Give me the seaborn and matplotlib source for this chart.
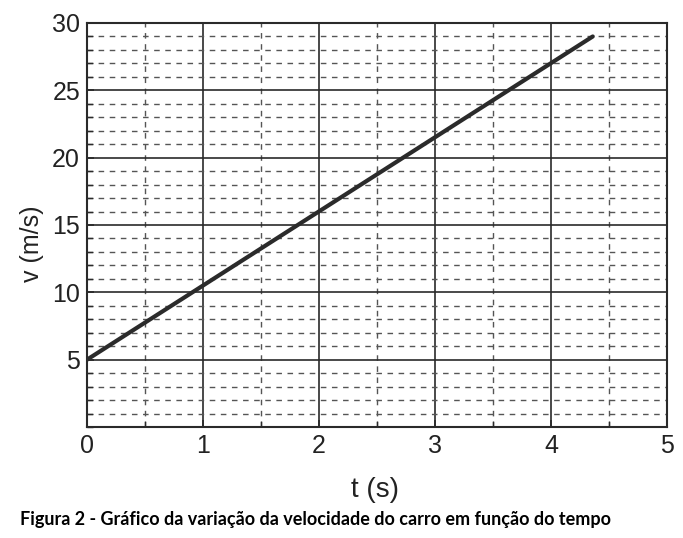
import matplotlib
matplotlib.use("Agg")
import matplotlib.pyplot as plt
import seaborn as sns
import pandas as pd
import numpy as np
from matplotlib.ticker import MultipleLocator

t_values = [0.0, 4.36]
v_values = [5.0, 29.0]
x_ticks = [0, 1, 2, 3, 4, 5]
y_ticks = [5, 10, 15, 20, 25, 30]
x_label = "t (s)"
y_label = "v (m/s)"
caption = "Figura 2 - Gráfico da variação da velocidade do carro em função do tempo"

sns.set_theme(style="white")
plt.rcParams['font.family'] = ['Liberation Sans', 'DejaVu Sans']

df = pd.DataFrame({"t": t_values, "v": v_values})

fig = plt.figure(figsize=(6.83, 5.38), dpi=100)
ax = fig.add_axes([87/683, 1-427/538, (667-87)/683, (427-23)/538])

ax.set_xlim(0, 5)
ax.set_ylim(0, 30)
ax.xaxis.set_major_locator(MultipleLocator(1))
ax.xaxis.set_minor_locator(MultipleLocator(0.5))
ax.yaxis.set_major_locator(MultipleLocator(5))
ax.yaxis.set_minor_locator(MultipleLocator(1))
ax.set_yticks(y_ticks)
ax.set_xticks(x_ticks)

ax.grid(which="major", color="#2a2a2a", linewidth=1.2, linestyle="-")
ax.grid(which="minor", color="#555555", linewidth=1.0, linestyle=(0, (4, 4)))
ax.set_axisbelow(True)

sns.lineplot(data=df, x="t", y="v", ax=ax, color="#2b2b2b", linewidth=3, zorder=5)

for s in ax.spines.values():
    s.set_color("#2a2a2a")
    s.set_linewidth(1.5)

ax.tick_params(which="major", direction="in", length=5, color="#2a2a2a", labelsize=18, pad=5, bottom=True, left=True)
ax.tick_params(axis="y", which="major", pad=5)
ax.tick_params(which="minor", direction="in", length=4, color="#2a2a2a", bottom=True, left=True)
for lbl in ax.get_xticklabels() + ax.get_yticklabels():
    lbl.set_color("#222222")

ax.set_xlabel(x_label, fontsize=20, color="#222222")
ax.set_ylabel(y_label, fontsize=18, color="#222222")
ax.xaxis.set_label_coords((375-87)/580, -(490-427)/404)
ax.yaxis.set_label_coords(-(87-32)/580, (427-244)/404)
ax.xaxis.label.set_va("center")
ax.yaxis.label.set_va("center")

fig.text(20/683, 1-519/538, caption, fontsize=13, fontweight="bold",
         family=["Lato", "DejaVu Sans"], color="black", va="center", ha="left")

fig.savefig("out.png", dpi=100)
